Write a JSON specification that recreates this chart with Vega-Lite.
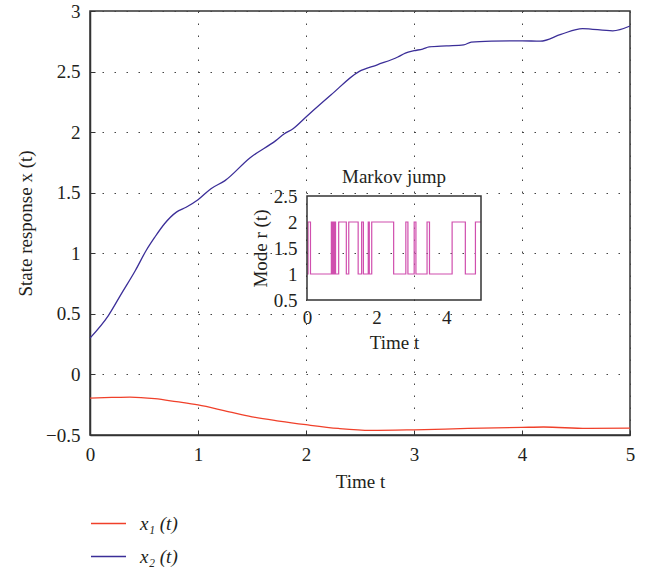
{
  "$schema": "https://vega.github.io/schema/vega-lite/v6.json",
  "autosize": {"type": "none"},
  "width": 540,
  "height": 424,
  "padding": {"left": 90, "top": 11, "right": 24, "bottom": 137},
  "background": "white",
  "config": {
    "font": "Liberation Serif",
    "view": {"stroke": "#333333", "strokeWidth": 1.5},
    "axis": {
      "labelFont": "Liberation Serif",
      "titleFont": "Liberation Serif",
      "labelFontSize": 19,
      "titleFontSize": 19,
      "titleFontWeight": "normal",
      "labelColor": "#231f20",
      "titleColor": "#231f20",
      "domainColor": "#333333",
      "domainWidth": 1.5,
      "tickColor": "#333333",
      "tickWidth": 1,
      "gridColor": "#444444",
      "gridDash": [1.5, 10.5],
      "gridWidth": 1,
      "gridOpacity": 1,
      "labelFlush": false,
      "labelOverlap": false
    },
    "legend": {
      "labelFont": "Liberation Serif",
      "labelFontSize": 19,
      "labelColor": "#231f20"
    }
  },
  "datasets": {
    "states": [
      {"t": 0, "value": -0.195, "series": "x₁ (t)"},
      {"t": 0.2, "value": -0.19, "series": "x₁ (t)"},
      {"t": 0.37, "value": -0.187, "series": "x₁ (t)"},
      {"t": 0.6, "value": -0.2, "series": "x₁ (t)"},
      {"t": 0.8, "value": -0.225, "series": "x₁ (t)"},
      {"t": 1.0, "value": -0.252, "series": "x₁ (t)"},
      {"t": 1.25, "value": -0.3, "series": "x₁ (t)"},
      {"t": 1.5, "value": -0.35, "series": "x₁ (t)"},
      {"t": 1.75, "value": -0.385, "series": "x₁ (t)"},
      {"t": 2.0, "value": -0.415, "series": "x₁ (t)"},
      {"t": 2.3, "value": -0.446, "series": "x₁ (t)"},
      {"t": 2.6, "value": -0.462, "series": "x₁ (t)"},
      {"t": 3.0, "value": -0.457, "series": "x₁ (t)"},
      {"t": 3.5, "value": -0.446, "series": "x₁ (t)"},
      {"t": 4.0, "value": -0.437, "series": "x₁ (t)"},
      {"t": 4.2, "value": -0.434, "series": "x₁ (t)"},
      {"t": 4.6, "value": -0.446, "series": "x₁ (t)"},
      {"t": 5.0, "value": -0.444, "series": "x₁ (t)"},
      {"t": 0, "value": 0.3, "series": "x₂ (t)"},
      {"t": 0.17, "value": 0.486, "series": "x₂ (t)"},
      {"t": 0.29, "value": 0.665, "series": "x₂ (t)"},
      {"t": 0.42, "value": 0.858, "series": "x₂ (t)"},
      {"t": 0.52, "value": 1.023, "series": "x₂ (t)"},
      {"t": 0.6, "value": 1.133, "series": "x₂ (t)"},
      {"t": 0.69, "value": 1.244, "series": "x₂ (t)"},
      {"t": 0.8, "value": 1.34, "series": "x₂ (t)"},
      {"t": 0.89, "value": 1.38, "series": "x₂ (t)"},
      {"t": 1.0, "value": 1.442, "series": "x₂ (t)"},
      {"t": 1.12, "value": 1.533, "series": "x₂ (t)"},
      {"t": 1.25, "value": 1.6, "series": "x₂ (t)"},
      {"t": 1.48, "value": 1.787, "series": "x₂ (t)"},
      {"t": 1.72, "value": 1.93, "series": "x₂ (t)"},
      {"t": 1.8, "value": 1.986, "series": "x₂ (t)"},
      {"t": 1.88, "value": 2.028, "series": "x₂ (t)"},
      {"t": 2.0, "value": 2.125, "series": "x₂ (t)"},
      {"t": 2.23, "value": 2.306, "series": "x₂ (t)"},
      {"t": 2.49, "value": 2.5, "series": "x₂ (t)"},
      {"t": 2.66, "value": 2.556, "series": "x₂ (t)"},
      {"t": 2.85, "value": 2.62, "series": "x₂ (t)"},
      {"t": 2.92, "value": 2.653, "series": "x₂ (t)"},
      {"t": 3.0, "value": 2.672, "series": "x₂ (t)"},
      {"t": 3.08, "value": 2.686, "series": "x₂ (t)"},
      {"t": 3.14, "value": 2.703, "series": "x₂ (t)"},
      {"t": 3.3, "value": 2.712, "series": "x₂ (t)"},
      {"t": 3.46, "value": 2.72, "series": "x₂ (t)"},
      {"t": 3.53, "value": 2.743, "series": "x₂ (t)"},
      {"t": 3.72, "value": 2.751, "series": "x₂ (t)"},
      {"t": 4.0, "value": 2.754, "series": "x₂ (t)"},
      {"t": 4.17, "value": 2.751, "series": "x₂ (t)"},
      {"t": 4.36, "value": 2.807, "series": "x₂ (t)"},
      {"t": 4.56, "value": 2.855, "series": "x₂ (t)"},
      {"t": 4.84, "value": 2.836, "series": "x₂ (t)"},
      {"t": 5.0, "value": 2.876, "series": "x₂ (t)"}
    ],
    "mode": [
      {"t": 0, "r": 1},
      {"t": 0.03, "r": 2},
      {"t": 0.1, "r": 1},
      {"t": 0.7, "r": 2},
      {"t": 0.72, "r": 1},
      {"t": 0.75, "r": 2},
      {"t": 0.77, "r": 1},
      {"t": 0.8, "r": 2},
      {"t": 0.82, "r": 1},
      {"t": 0.91, "r": 2},
      {"t": 1.13, "r": 1},
      {"t": 1.2, "r": 2},
      {"t": 1.47, "r": 1},
      {"t": 1.57, "r": 2},
      {"t": 1.62, "r": 1},
      {"t": 1.76, "r": 2},
      {"t": 1.79, "r": 1},
      {"t": 1.86, "r": 2},
      {"t": 2.49, "r": 1},
      {"t": 2.84, "r": 2},
      {"t": 2.9, "r": 1},
      {"t": 3.08, "r": 2},
      {"t": 3.13, "r": 1},
      {"t": 3.45, "r": 2},
      {"t": 3.52, "r": 1},
      {"t": 4.17, "r": 2},
      {"t": 4.55, "r": 1},
      {"t": 4.84, "r": 2},
      {"t": 5.0, "r": 2}
    ]
  },
  "layer": [
    {
      "data": {"name": "states"},
      "mark": {"type": "line", "strokeWidth": 1.3, "interpolate": "monotone"},
      "encoding": {
        "x": {
          "field": "t", "type": "quantitative",
          "scale": {"domain": [0, 5], "nice": false},
          "axis": {"orient": "bottom", "values": [0, 1, 2, 3, 4, 5], "title": "Time t", "tickSize": -5, "labelPadding": 15, "titlePadding": 8, "format": "~g"}
        },
        "y": {
          "field": "value", "type": "quantitative",
          "scale": {"domain": [-0.5, 3], "nice": false, "zero": false},
          "axis": {"orient": "left", "values": [-0.5, 0, 0.5, 1, 1.5, 2, 2.5, 3], "title": "State response x (t)", "tickSize": -5, "labelPadding": 15, "titlePadding": 10, "format": "~g"}
        },
        "color": {
          "field": "series", "type": "nominal",
          "scale": {"domain": ["x₁ (t)", "x₂ (t)"], "range": ["#f0402a", "#3b2e98"]},
          "legend": {
            "orient": "none", "legendX": 0, "legendY": 494, "direction": "vertical",
            "title": null, "symbolType": "stroke", "symbolSize": 1225, "symbolStrokeWidth": 1.5,
            "labelFontStyle": "italic", "rowPadding": 4, "labelOffset": 13, "padding": 0
          }
        }
      }
    },
    {
      "layer": [
        {
          "data": {"name": "mode"},
          "mark": {"type": "line", "interpolate": "step-after", "color": "#d04fae", "strokeWidth": 1.2},
          "encoding": {
            "x": {
              "field": "t", "type": "quantitative",
              "scale": {"domain": [0, 5], "range": [217, 391], "nice": false},
              "axis": {"orient": "bottom", "values": [0, 2, 4], "title": "Time t", "offset": -135, "domain": false, "ticks": false, "labelPadding": 8, "titlePadding": 6, "format": "~g"}
            },
            "y": {
              "field": "r", "type": "quantitative",
              "scale": {"domain": [0.5, 2.5], "range": [289, 185], "nice": false, "zero": false},
              "axis": {"orient": "left", "values": [0.5, 1, 1.5, 2, 2.5], "title": "Mode r (t)", "offset": -217, "domain": false, "ticks": false, "labelPadding": 10, "titlePadding": 3, "format": "~g"}
            }
          }
        },
        {
          "data": {"values": [{"label": "frame"}]},
          "mark": {"type": "rect", "fill": "transparent", "stroke": "#333333", "strokeWidth": 1.5},
          "encoding": {
            "x": {"datum": 0, "type": "quantitative"},
            "x2": {"datum": 5},
            "y": {"datum": 0.5, "type": "quantitative"},
            "y2": {"datum": 2.5}
          }
        },
        {
          "data": {"values": [{"label": "Markov jump"}]},
          "mark": {"type": "text", "fontSize": 19, "dy": -13, "baseline": "alphabetic", "align": "center", "color": "#231f20", "font": "Liberation Serif"},
          "encoding": {
            "text": {"field": "label"},
            "x": {"datum": 2.5, "type": "quantitative"},
            "y": {"datum": 2.5, "type": "quantitative"}
          }
        }
      ]
    }
  ],
  "resolve": {
    "scale": {"x": "independent", "y": "independent"},
    "axis": {"x": "independent", "y": "independent"}
  }
}
